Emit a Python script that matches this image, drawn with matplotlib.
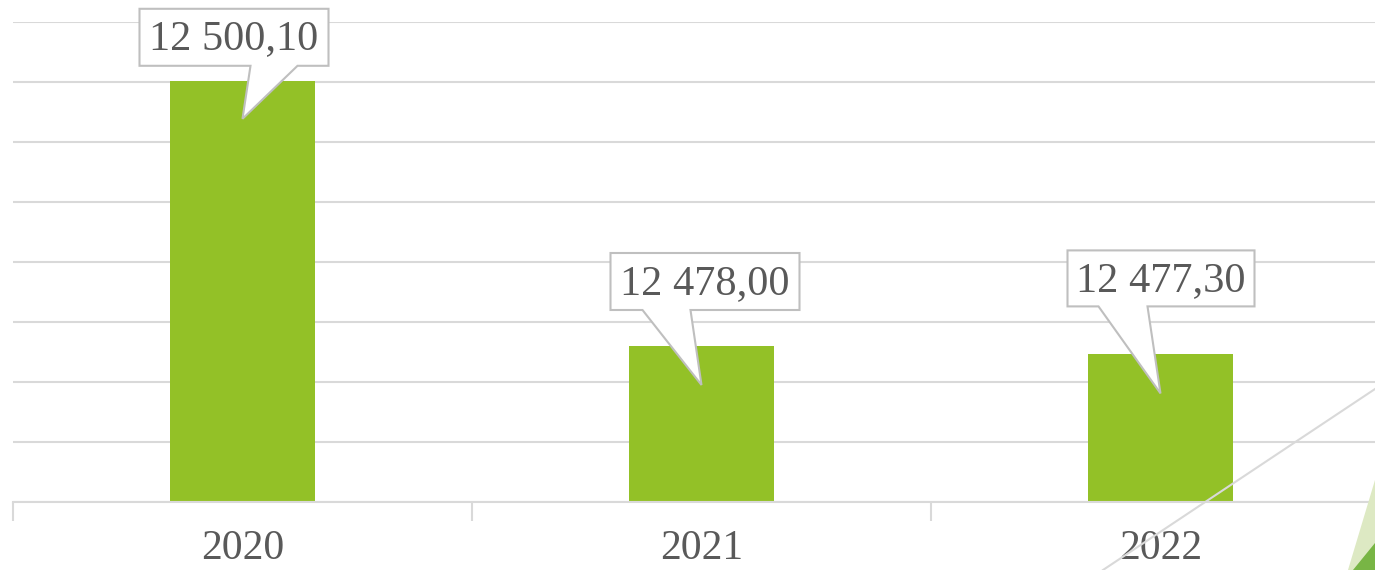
#===============================================================================#
# import external dependencies                                                  #
#===============================================================================#

import matplotlib
matplotlib.use("Agg")
import matplotlib.pyplot as plt
import matplotlib.transforms as mtransforms
from matplotlib.patches import Polygon
from matplotlib.lines import Line2D

#===============================================================================#
# data                                                                          #
#===============================================================================#

years = ["2020", "2021", "2022"]
values = [12500.10, 12478.00, 12477.30]
labels = ["12 500,10", "12 478,00", "12 477,30"]

# callout geometry in pixels relative to the top centre of each bar
# (box left, box right, box bottom, box top, base left, base right, tip dy)
callouts = [
    (-103, 86, 15, 72, 8, 55, -38),
    (-91, 98, 36, 93, -59, -11, -39),
    (-93, 94, 48, 104, -62, -13, -39),
]

barColor = "#93c127"
gridColor = "#d9d9d9"
textColor = "#595959"

#===============================================================================#
# plot                                                                          #
#===============================================================================#

plt.rcParams['font.family'] = ['Liberation Serif', 'DejaVu Serif']

W, H, dpi = 1375, 570, 100
fig = plt.figure(figsize=(W / dpi, H / dpi), dpi=dpi)
ax = fig.add_axes([13 / W, 68 / H, 1377 / W, 480 / H])

x = list(range(len(years)))
ax.bar(x, values, width=0.314, color=barColor, zorder=2)

ax.set_xlim(-0.5, len(years) - 0.5)
ax.set_ylim(12465, 12505)
ax.set_yticks([12465 + 5 * i for i in range(9)])
ax.yaxis.grid(True, color=gridColor, linewidth=1.5, zorder=0)
ax.tick_params(axis='y', left=False, labelleft=False)

# category ticks sit on band boundaries, labels in the middle
ax.set_xticks([i - 0.5 for i in range(len(years) + 1)])
ax.set_xticklabels([])
ax.set_xticks(x, minor=True)
ax.set_xticklabels(years, minor=True)
ax.tick_params(axis='x', which='major', length=14, width=1.5, color=gridColor)
ax.tick_params(axis='x', which='minor', length=0, pad=20, labelsize=30, labelcolor=textColor)

for side in ['top', 'right', 'left']:
    ax.spines[side].set_visible(False)
ax.spines['bottom'].set_color(gridColor)
ax.spines['bottom'].set_linewidth(1.5)

# callouts---------------------------------------------------------------------#

for i, (v, lab, c) in enumerate(zip(values, labels, callouts)):
    bl, br, bb, bt, pl, pr, tip = c
    trans = fig.dpi_scale_trans + mtransforms.ScaledTranslation(i, v, ax.transData)
    pts = [(bl, bb), (pl, bb), (0, tip), (pr, bb), (br, bb), (br, bt), (bl, bt)]
    pts = [(px / dpi, py / dpi) for px, py in pts]
    ax.add_patch(Polygon(pts, closed=True, facecolor='white', edgecolor='#bfbfbf',
                         linewidth=1.5, transform=trans, clip_on=False, zorder=5))
    ax.text((bl + br) / 2 / dpi, (bb + bt) / 2 / dpi - 0.02, lab, transform=trans,
            ha='center', va='center', fontsize=30.5, color=textColor, zorder=6)

# slide decoration-------------------------------------------------------------#

fig.add_artist(Line2D([1375 / W, 1103 / W], [1 - 389 / H, 0], color=gridColor,
                      linewidth=1.5, transform=fig.transFigure, zorder=10))
fig.add_artist(Polygon([(1, 1 - 480 / H), (1, 0), (1348 / W, 0)], closed=True,
                       facecolor='#dde9c3', edgecolor='none', transform=fig.transFigure, zorder=11))
fig.add_artist(Polygon([(1, 1 - 543 / H), (1, 0), (1353 / W, 0)], closed=True,
                       facecolor='#78b545', edgecolor='none', transform=fig.transFigure, zorder=12))

fig.savefig("out.png", dpi=dpi)
plt.close(fig)
